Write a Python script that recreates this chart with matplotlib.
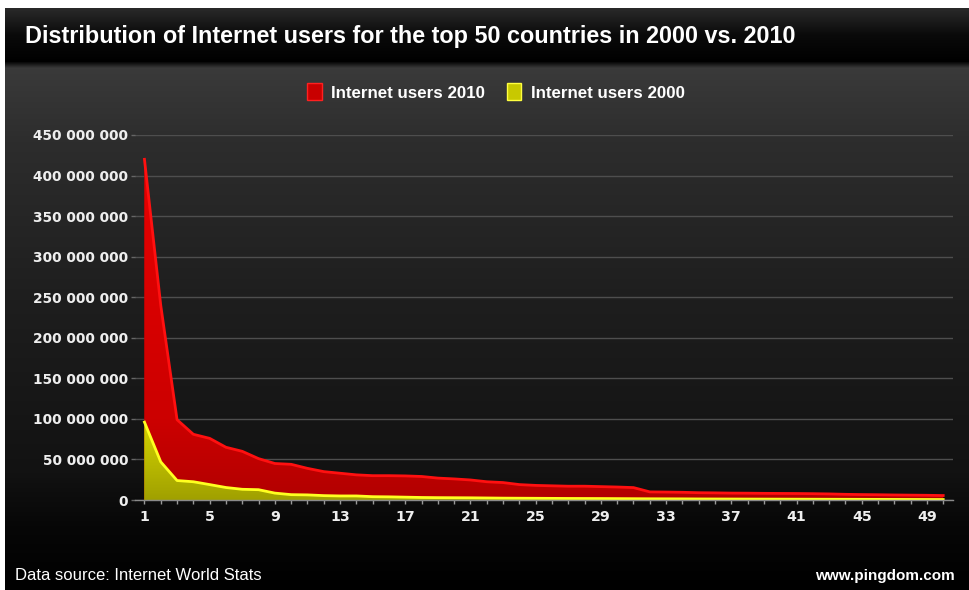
import numpy as np
import matplotlib
matplotlib.use("Agg")
import matplotlib.pyplot as plt
from matplotlib.colors import LinearSegmentedColormap
from matplotlib.patches import Patch
from matplotlib.ticker import FuncFormatter, MultipleLocator

# ---------------- data ----------------
ranks = list(range(1, 51))
users_2010 = [420, 240, 99, 81, 76, 65, 60, 51, 45, 44,
              39, 35, 33, 31, 30, 30, 29.7, 29, 27, 26,
              24.7, 22.5, 21.5, 19, 18, 17.5, 17, 17, 16.5, 16,
              15.3, 10, 9.8, 9.5, 9, 8.8, 8.5, 8.4, 8.2, 8.1,
              8, 7.8, 7.5, 7, 6.7, 6.5, 6.2, 6, 5.8, 5.5]
users_2000 = [96, 47, 24, 22.5, 19, 15.4, 13.2, 12.7, 8.5, 6.6,
              6.3, 5.4, 5.0, 5.0, 4.1, 3.9, 3.5, 3.1, 2.9, 2.8,
              2.7, 2.5, 2.3, 2.2, 2.1, 2.0, 1.9, 1.85, 1.8, 1.7,
              1.6, 1.5, 1.45, 1.4, 1.3, 1.25, 1.2, 1.15, 1.1, 1.05,
              1.0, 0.95, 0.9, 0.85, 0.8, 0.75, 0.7, 0.65, 0.6, 0.55]
users_2010 = [v * 1e6 for v in users_2010]
users_2000 = [v * 1e6 for v in users_2000]
x_ticks = list(range(1, 50, 4))
y_ticks = list(range(0, 450_000_001, 50_000_000))

title = "Distribution of Internet users for the top 50 countries in 2000 vs. 2010"
series_names = ["Internet users 2010", "Internet users 2000"]
source_text = "Data source: Internet World Stats"
site_text = "www.pingdom.com"

W, H = 970, 590
fig = plt.figure(figsize=(W / 100, H / 100), dpi=100, facecolor="white")

# ---------------- background (pixel coordinates) ----------------
bg = fig.add_axes([0, 0, 1, 1], zorder=-10)
bg.set_xlim(0, W)
bg.set_ylim(H, 0)
bg.axis("off")

grad = np.linspace(0, 1, 256).reshape(-1, 1)
body_cmap = LinearSegmentedColormap.from_list(
    "body", [(0.0, "#3b3b3b"), (0.15, "#2d2d2d"), (0.45, "#1e1e1e"),
             (0.78, "#121212"), (0.88, "#070707"), (1.0, "#000000")])
bg.imshow(grad, cmap=body_cmap, extent=[5, W, H, 62], aspect="auto",
          interpolation="bicubic")
title_cmap = LinearSegmentedColormap.from_list(
    "titlebar", ["#2a2a2a", "#0a0a0a", "#000000"])
bg.imshow(grad, cmap=title_cmap, extent=[5, W, 62, 8], aspect="auto",
          interpolation="bicubic")
shadow_cmap = LinearSegmentedColormap.from_list("shadow", ["#050505", "#3b3b3b"])
bg.imshow(grad, cmap=shadow_cmap, extent=[5, W, 68, 62], aspect="auto",
          interpolation="bicubic")

fig.text(25 / W, 1 - 37 / H, title, color="white", fontsize=16.8,
         fontweight="bold", family=["Liberation Sans", "DejaVu Sans"],
         ha="left", va="center")
fig.text(15 / W, 1 - 576 / H, source_text, color="white", fontsize=12,
         family=["Liberation Sans", "DejaVu Sans"], ha="left", va="center")
fig.text(955 / W, 1 - 576 / H, site_text, color="white", fontsize=11,
         fontweight="bold", family=["Liberation Sans", "DejaVu Sans"],
         ha="right", va="center")

# ---------------- main axes ----------------
ax = fig.add_axes([135 / W, 90 / H, 818 / W, 365 / H])
ax.set_facecolor("none")

red_cmap = LinearSegmentedColormap.from_list(
    "red", [(0.0, "#b20000"), (0.22, "#cc0000"), (1.0, "#ea0000")])
yel_cmap = LinearSegmentedColormap.from_list(
    "yel", [(0.0, "#a0a000"), (0.5, "#bcbc00"), (1.0, "#d6d600")])

poly_r = ax.fill_between(ranks, 0, users_2010, facecolor="#c40000",
                         edgecolor="none", zorder=2)
im_r = ax.imshow(grad[::-1], cmap=red_cmap, extent=[1, 50, 0, 450_000_000],
                 aspect="auto", zorder=2.1)
im_r.set_clip_path(poly_r.get_paths()[0], ax.transData)
ax.plot(ranks, users_2010, color="#ff1010", lw=2, zorder=2.2,
        solid_joinstyle="round")

poly_y = ax.fill_between(ranks, 0, users_2000, facecolor="#b8b800",
                         edgecolor="none", zorder=3)
im_y = ax.imshow(grad[::-1], cmap=yel_cmap, extent=[1, 50, 0, 100_000_000],
                 aspect="auto", zorder=3.1)
im_y.set_clip_path(poly_y.get_paths()[0], ax.transData)
ax.plot(ranks, users_2000, color="#ffff20", lw=2, zorder=3.2,
        solid_joinstyle="round")

ax.set_xlim(0.42, 50.6)
ax.set_ylim(0, 450_000_000)

# grid & axes styling
ax.set_yticks(y_ticks)
ax.yaxis.set_major_formatter(FuncFormatter(lambda v, p: f"{int(v):,}".replace(",", " ")))
ax.set_xticks(x_ticks)
ax.xaxis.set_minor_locator(MultipleLocator(1))
ax.grid(axis="y", color="#4e4e4e", lw=1, zorder=1)
ax.set_axisbelow(True)
for s in ["top", "right", "left"]:
    ax.spines[s].set_visible(False)
ax.spines["bottom"].set_color("#8a8a8a")
ax.spines["bottom"].set_linewidth(1)
ax.spines["bottom"].set_zorder(4)

ax.tick_params(axis="y", length=3, width=1, color="#666666", pad=2,
               labelcolor="#eeeeee", labelsize=9.9)
ax.tick_params(axis="x", which="both", length=3, width=1, color="#9a9a9a",
               pad=4, labelcolor="#eeeeee", labelsize=10.2)
for lab in ax.get_yticklabels() + ax.get_xticklabels():
    lab.set_fontweight("bold")
    lab.set_family("DejaVu Sans")

# legend
handles = [Patch(facecolor="#c80000", edgecolor="#ff2020", label=series_names[0]),
           Patch(facecolor="#c8c800", edgecolor="#ffff40", label=series_names[1])]
leg = fig.legend(handles=handles, loc="center", bbox_to_anchor=(496 / W, 1 - 92 / H),
                 ncol=2, frameon=False, handlelength=0.85, handleheight=1.15,
                 handletextpad=0.55, columnspacing=1.3,
                 prop={"family": "Liberation Sans", "weight": "bold", "size": 12.2})
for t in leg.get_texts():
    t.set_color("white")

fig.savefig("out.png", dpi=100, facecolor="white")
